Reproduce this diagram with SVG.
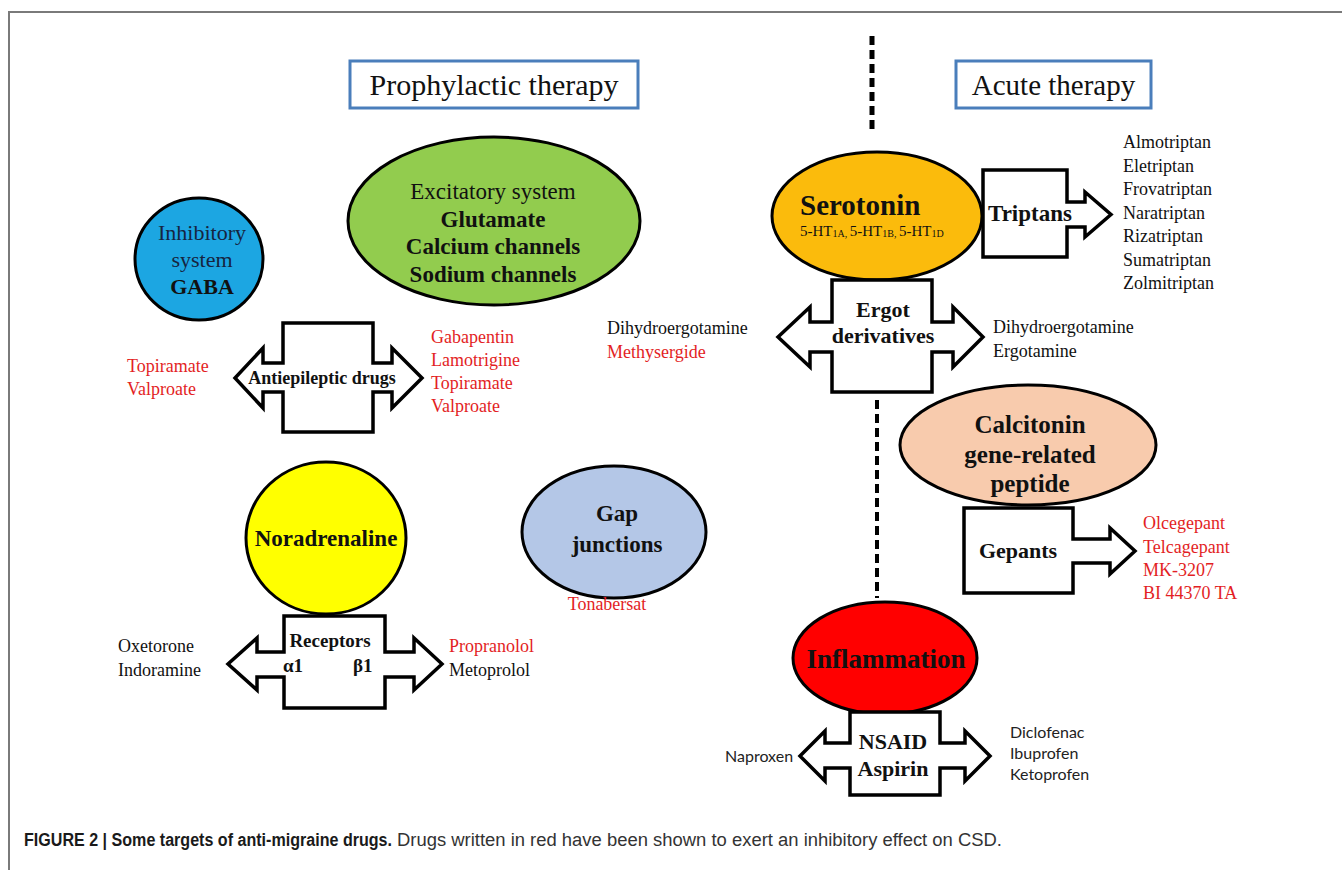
<svg xmlns="http://www.w3.org/2000/svg" width="1342" height="870" viewBox="0 0 1342 870">
<style>
  .serif { font-family: "Liberation Serif", "Times New Roman", serif; }
  .t { font-family: "Liberation Serif", "Times New Roman", serif; font-size: 18px; fill: #111; }
  .red { fill: #e31e24; }
  .b { font-weight: bold; }
  .node { stroke: #000; stroke-width: 3; }
  .arrow { fill: #fff; stroke: #000; stroke-width: 3.5; stroke-linejoin: miter; }
  .hdr { fill: #fff; stroke: #4a7ebb; stroke-width: 3; }
  .sans { font-family: Lato, "Open Sans", "Liberation Sans", sans-serif; font-size: 16px; fill: #222; }
  .mid { text-anchor: middle; }
  .dash { stroke: #000; fill: none; }
</style>
<rect width="1342" height="870" fill="#fff"/>
<path d="M9,870 V12 H1342" fill="none" stroke="#7a7a7a" stroke-width="2"/>

<g id="dividers">
  <line class="dash" x1="872" y1="36" x2="872" y2="134" stroke-width="5" stroke-dasharray="9 5"/>
  <line class="dash" x1="877" y1="400" x2="877" y2="598" stroke-width="4" stroke-dasharray="9 5"/>
</g>

<g id="hdr-prophylactic">
  <rect class="hdr" x="350" y="61" width="288" height="47"/>
  <text class="serif mid" x="494" y="95" font-size="30" fill="#111">Prophylactic therapy</text>
</g>
<g id="hdr-acute">
  <rect class="hdr" x="956" y="61" width="195" height="47"/>
  <text class="serif mid" x="1053.5" y="95" font-size="29" fill="#111">Acute therapy</text>
</g>

<g id="inhibitory">
  <ellipse class="node" cx="199" cy="259" rx="64" ry="61" fill="#1ca6e2"/>
  <text class="serif mid" x="202" y="240" font-size="22" fill="#16243f">Inhibitory</text>
  <text class="serif mid" x="202" y="267" font-size="22" fill="#16243f">system</text>
  <text class="serif mid b" x="202" y="294" font-size="22" fill="#111">GABA</text>
</g>

<g id="excitatory">
  <ellipse class="node" cx="494" cy="221" rx="146" ry="84" fill="#92cc4e"/>
  <text class="serif mid" x="493" y="199" font-size="23" fill="#111">Excitatory system</text>
  <text class="serif mid b" x="493" y="227" font-size="23" fill="#111">Glutamate</text>
  <text class="serif mid b" x="493" y="254" font-size="23" fill="#111">Calcium channels</text>
  <text class="serif mid b" x="493" y="282" font-size="23" fill="#111">Sodium channels</text>
</g>

<g id="antiepileptic">
  <polygon class="arrow" points="283,323 373,323 373,363 392,363 392,348 422,378 392,408 392,392 373,392 373,432 283,432 283,392 263,392 263,408 235,378 263,348 263,363 283,363"/>
  <text class="serif mid b" x="322" y="384" font-size="18" fill="#111">Antiepileptic drugs</text>
  <text class="t red" x="127" y="372">Topiramate</text>
  <text class="t red" x="127" y="395">Valproate</text>
  <text class="t red" x="431" y="343">Gabapentin</text>
  <text class="t red" x="431" y="366">Lamotrigine</text>
  <text class="t red" x="431" y="389">Topiramate</text>
  <text class="t red" x="431" y="412">Valproate</text>
</g>

<g id="noradrenaline">
  <ellipse class="node" cx="326" cy="538" rx="80" ry="76" fill="#ffff00"/>
  <text class="serif mid b" x="326" y="546" font-size="23" fill="#111">Noradrenaline</text>
</g>

<g id="receptors">
  <polygon class="arrow" points="284,616 385,616 385,652 414,652 414,638 442,664 414,690 414,677 385,677 385,708 284,708 284,677 257,677 257,690 228,664 257,638 257,652 284,652"/>
  <text class="serif mid b" x="330" y="647" font-size="19" fill="#111">Receptors</text>
  <text class="serif b" x="283" y="672" font-size="19" fill="#111">α1</text>
  <text class="serif b" x="353" y="672" font-size="19" fill="#111">β1</text>
  <text class="t" x="118" y="652">Oxetorone</text>
  <text class="t" x="118" y="676">Indoramine</text>
  <text class="t red" x="449" y="652">Propranolol</text>
  <text class="t" x="449" y="676">Metoprolol</text>
</g>

<g id="gap-junctions">
  <ellipse class="node" cx="614" cy="532" rx="92" ry="66" fill="#b4c7e7"/>
  <text class="serif mid b" x="617" y="521" font-size="23" fill="#111">Gap</text>
  <text class="serif mid b" x="617" y="552" font-size="23" fill="#111">junctions</text>
  <text class="t red mid" x="607" y="610">Tonabersat</text>
</g>

<g id="triptans">
  <polygon class="arrow" points="983,170 1067,170 1067,202 1085,202 1085,192 1111,214.5 1085,237 1085,227 1067,227 1067,257 983,257"/>
  <text class="serif b" x="988" y="221" font-size="23" fill="#111">Triptans</text>
  <text class="t" x="1123" y="148">Almotriptan</text>
  <text class="t" x="1123" y="171.5">Eletriptan</text>
  <text class="t" x="1123" y="195">Frovatriptan</text>
  <text class="t" x="1123" y="218.5">Naratriptan</text>
  <text class="t" x="1123" y="242">Rizatriptan</text>
  <text class="t" x="1123" y="265.5">Sumatriptan</text>
  <text class="t" x="1123" y="289">Zolmitriptan</text>
</g>

<g id="serotonin">
  <ellipse class="node" cx="877" cy="216" rx="105" ry="64" fill="#fbbb0c"/>
  <text class="serif b" x="800" y="215" font-size="29" fill="#111">Serotonin</text>
  <text class="serif" x="800" y="236" font-size="15" fill="#111">5-HT<tspan font-size="10" dy="1">1A</tspan><tspan font-size="10">, </tspan><tspan dy="-1">5-HT</tspan><tspan font-size="10" dy="1">1B</tspan><tspan font-size="10">, </tspan><tspan dy="-1">5-HT</tspan><tspan font-size="10" dy="1">1D</tspan></text>
</g>

<g id="ergot">
  <polygon class="arrow" points="832,280 932,280 932,322 953,322 953,307 983,337 953,367 953,352 932,352 932,392 832,392 832,352 810,352 810,367 778,337 810,307 810,322 832,322"/>
  <text class="serif mid b" x="883" y="317" font-size="22" fill="#111">Ergot</text>
  <text class="serif mid b" x="883" y="343" font-size="22" fill="#111">derivatives</text>
  <text class="t" x="607" y="334">Dihydroergotamine</text>
  <text class="t red" x="607" y="358">Methysergide</text>
  <text class="t" x="993" y="333">Dihydroergotamine</text>
  <text class="t" x="993" y="357">Ergotamine</text>
</g>

<g id="cgrp">
  <ellipse class="node" cx="1028" cy="445" rx="128" ry="60" fill="#f8cbad"/>
  <text class="serif mid b" x="1030" y="433" font-size="25" fill="#111">Calcitonin</text>
  <text class="serif mid b" x="1030" y="463" font-size="25" fill="#111">gene-related</text>
  <text class="serif mid b" x="1030" y="492" font-size="25" fill="#111">peptide</text>
</g>

<g id="gepants">
  <polygon class="arrow" points="964,508 1073,508 1073,539 1110,539 1110,528 1135,551 1110,574 1110,563 1073,563 1073,593 964,593"/>
  <text class="serif mid b" x="1018" y="558" font-size="22" fill="#111">Gepants</text>
  <text class="t red" x="1143" y="529">Olcegepant</text>
  <text class="t red" x="1143" y="553">Telcagepant</text>
  <text class="t red" x="1143" y="576">MK-3207</text>
  <text class="t red" x="1143" y="599">BI 44370 TA</text>
</g>

<g id="inflammation">
  <ellipse class="node" cx="885" cy="658" rx="92" ry="56" fill="#ff0000"/>
  <text class="serif mid b" x="886" y="668" font-size="27" fill="#111">Inflammation</text>
</g>

<g id="nsaid">
  <polygon class="arrow" points="850,712 940,712 940,743 965,743 965,731 990,756 965,781 965,768 940,768 940,795 850,795 850,768 825,768 825,781 800,756 825,731 825,743 850,743"/>
  <text class="serif mid b" x="893" y="749" font-size="22" fill="#111">NSAID</text>
  <text class="serif mid b" x="893" y="776" font-size="22" fill="#111">Aspirin</text>
  <text class="sans" x="725" y="762">Naproxen</text>
  <text class="sans" x="1010" y="738">Diclofenac</text>
  <text class="sans" x="1010" y="759">Ibuprofen</text>
  <text class="sans" x="1010" y="780">Ketoprofen</text>
</g>

<g id="caption">
  <text x="24" y="846" font-family="'Liberation Sans Narrow', 'Liberation Sans', Arial, sans-serif" font-size="18" font-weight="bold" fill="#1a1a1a" textLength="368" lengthAdjust="spacingAndGlyphs">FIGURE 2 | Some targets of anti-migraine drugs.</text>
  <text x="397" y="846" font-family="'Liberation Sans Narrow', 'Liberation Sans', Arial, sans-serif" font-size="18" fill="#333" textLength="605" lengthAdjust="spacingAndGlyphs">Drugs written in red have been shown to exert an inhibitory effect on CSD.</text>
</g>
</svg>
